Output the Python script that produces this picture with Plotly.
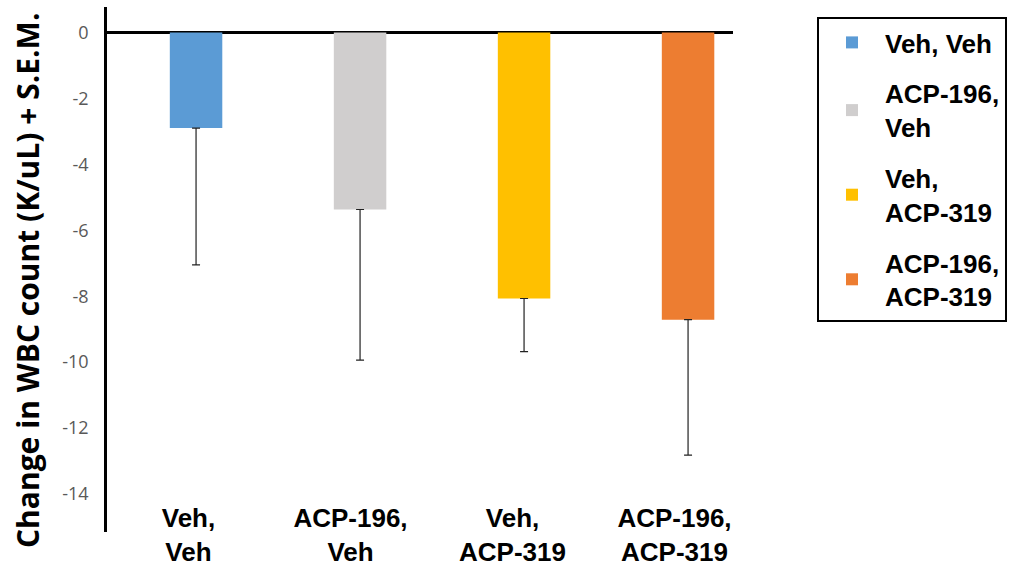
import plotly.graph_objects as go

# ---- data ----
categories = ["Veh, Veh", "ACP-196, Veh", "Veh, ACP-319", "ACP-196, ACP-319"]
axis_labels = ["Veh,<br>Veh", "ACP-196,<br>Veh", "Veh,<br>ACP-319", "ACP-196,<br>ACP-319"]
legend_labels = ["Veh, Veh", "ACP-196,<br>Veh", "Veh,<br>ACP-319", "ACP-196,<br>ACP-319"]
mean_change = [-2.90, -5.37, -8.07, -8.71]
sem = [4.15, 4.57, 1.61, 4.11]
colors = ["#5B9BD5", "#D0CECE", "#FFC000", "#ED7D31"]
y_ticks = [0, -2, -4, -6, -8, -10, -12, -14]
y_title = "Change in WBC count (K/uL) + S.E.M."

W, H = 1034, 569
ML, MR, MT, MB = 107, 301, 7, 37
PW, PH = W - ML - MR, H - MT - MB

fig = go.Figure()
positions = list(range(len(categories)))
for i, name in enumerate(categories):
    fig.add_trace(go.Bar(
        x=[positions[i]], y=[mean_change[i]],
        name=legend_labels[i],
        marker=dict(color=colors[i], line=dict(width=0)),
        width=0.32,
        error_y=dict(type="data", symmetric=False, array=[0], arrayminus=[sem[i]],
                     color="#222222", thickness=1.2, width=4),
        legendgroup=str(i),
        xaxis="x", yaxis="y",
    ))

# invisible trace to anchor the category-label axis
fig.add_trace(go.Scatter(x=positions, y=[None] * len(positions), xaxis="x2", yaxis="y",
                         mode="markers", showlegend=False, hoverinfo="skip"))

fig.update_layout(
    width=W, height=H,
    margin=dict(l=ML, r=MR, t=MT, b=MB, autoexpand=False),
    paper_bgcolor="white", plot_bgcolor="white",
    showlegend=True,
    legend=dict(
        x=(817 - ML) / PW, xanchor="left",
        y=(H - MB - 17) / PH, yanchor="top",
        bordercolor="black", borderwidth=2,
        font=dict(family="Liberation Sans, Arial", size=26, color="black", weight="bold"),
        itemwidth=56, tracegroupgap=14, traceorder="grouped",
        bgcolor="white",
    ),
    xaxis=dict(
        range=[-0.543, 3.274], showticklabels=False, showline=False,
        showgrid=False, zeroline=False, ticks="", automargin=False,
    ),
    xaxis2=dict(
        overlaying="x", anchor="free", position=0.061, side="bottom",
        range=[-0.503, 3.361], tickvals=positions, ticktext=axis_labels,
        showline=False, showgrid=False, zeroline=False, ticks="", automargin=False,
        tickfont=dict(family="Liberation Sans, Arial", size=26, color="black", weight="bold"),
    ),
    yaxis=dict(
        range=[-15.15, 0.77], tickvals=y_ticks, ticktext=[str(v) for v in y_ticks],
        showline=True, linecolor="black", linewidth=2.5,
        zeroline=True, zerolinecolor="black", zerolinewidth=2.5,
        showgrid=False, ticks="", ticklabelstandoff=12, automargin=False,
        tickfont=dict(family="Open Sans", size=18, color="#595959"),
    ),
    annotations=[dict(
        text=y_title, textangle=-90, showarrow=False,
        xref="paper", yref="paper",
        x=(27 - ML) / PW, y=(H - MB - 281) / PH,
        xanchor="center", yanchor="middle",
        font=dict(family="Open Sans", size=30, color="black", weight="bold"),
    )],
)

fig.write_html("out.html")
